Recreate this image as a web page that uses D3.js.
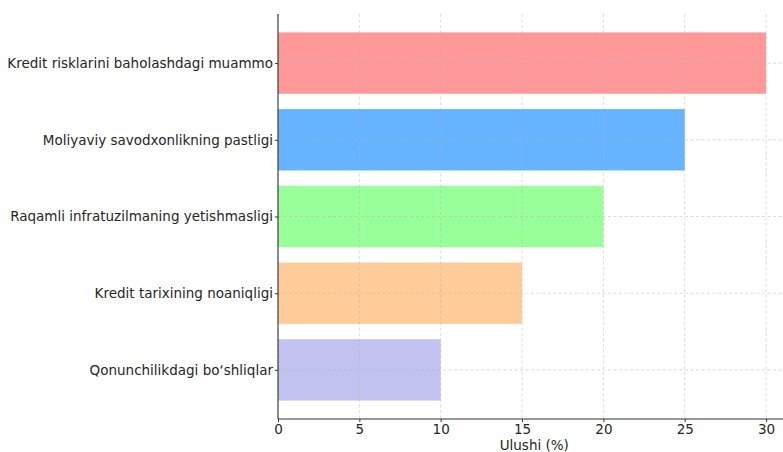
<!DOCTYPE html>
<html><head><meta charset="utf-8">
<script src="https://cdn.jsdelivr.net/npm/d3@7"></script>
<style>body{margin:0;background:#fff;overflow:hidden}svg{display:block}text{font-family:"DejaVu Sans",sans-serif;fill:#262626}</style>
</head><body><svg id="c" width="783" height="452"></svg>
<script>
const categories = ["Kredit risklarini baholashdagi muammo","Moliyaviy savodxonlikning pastligi","Raqamli infratuzilmaning yetishmasligi","Kredit tarixining noaniqligi","Qonunchilikdagi bo‘shliqlar"];
const values = [30, 25, 20, 15, 10];
const colors = ["#ff9999","#66b3ff","#99ff99","#ffcc99","#c2c2f0"];
const xTicks = [0,5,10,15,20,25,30];
const xLabel = "Ulushi (%)";

const svg = d3.select("#c");
const L = 278, R = 790.5, T = 14, B = 419;
const x = d3.scaleLinear().domain([0, 31.5]).range([L, R]);
const n = categories.length;
const y = d3.scaleLinear().domain([-0.64, n - 1 + 0.64]).range([T, B]);
const bh = (y(0.4) - y(-0.4));

svg.append("g").selectAll("rect").data(values).join("rect")
  .attr("x", x(0)).attr("y", (d,i)=>y(i-0.4))
  .attr("width", d=>x(d)-x(0)).attr("height", bh)
  .attr("fill", (d,i)=>colors[i]);

const g = svg.append("g").attr("stroke","#b0b0b0").attr("stroke-opacity",0.6).attr("stroke-width",0.8).attr("stroke-dasharray","3,2.5");
g.selectAll("line.v").data(xTicks).join("line").attr("x1",d=>x(d)).attr("x2",d=>x(d)).attr("y1",T).attr("y2",B);
g.selectAll("line.h").data(categories).join("line").attr("y1",(d,i)=>y(i)).attr("y2",(d,i)=>y(i)).attr("x1",L).attr("x2",R);

const xa = svg.append("g").attr("transform",`translate(0,${B})`)
  .call(d3.axisBottom(x).tickValues(xTicks).tickSize(3).tickPadding(2).tickFormat(d3.format("d")));
const ya = svg.append("g").attr("transform",`translate(${L},0)`)
  .call(d3.axisLeft(y).tickValues(d3.range(n)).tickSize(3).tickPadding(2).tickFormat(i=>categories[i]));
[xa,ya].forEach(a=>{
  a.select(".domain").attr("stroke","#333").attr("stroke-width",1.1).attr("d", a===xa?`M${L},0H${R}`:`M0,${T}V${B}`);
  a.selectAll(".tick line").attr("stroke","#333").attr("stroke-width",1);
  a.selectAll("text").style("font-size","13.5px").attr("fill","#262626");
});
svg.append("text").attr("x",(L+R)/2).attr("y",450).attr("text-anchor","middle").style("font-size","13.5px").text(xLabel);
</script></body></html>
